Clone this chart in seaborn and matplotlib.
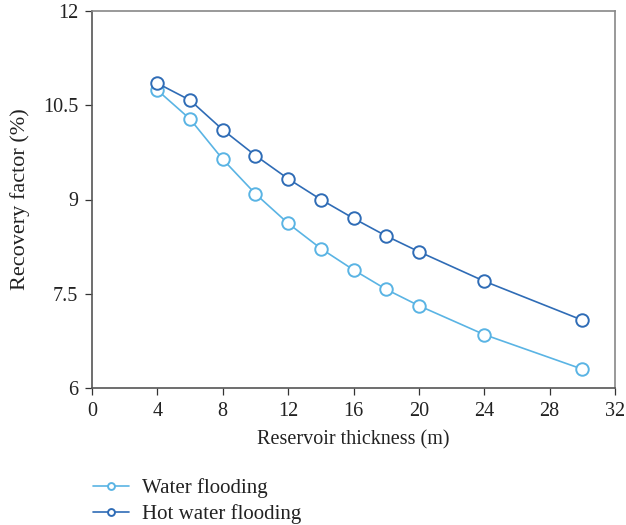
import pandas as pd
import matplotlib
matplotlib.use("Agg")
import matplotlib.pyplot as plt
import seaborn as sns

# Reservoir thickness (m) and recovery factor (%) for both methods
thickness = [4, 6, 8, 10, 12, 14, 16, 18, 20, 24, 30]
water_flooding = [10.74, 10.28, 9.64, 9.09, 8.62, 8.22, 7.88, 7.57, 7.31, 6.85, 6.30]
hot_water_flooding = [10.85, 10.58, 10.11, 9.70, 9.33, 9.00, 8.70, 8.42, 8.17, 7.70, 7.08]

x_ticks = [0, 4, 8, 12, 16, 20, 24, 28, 32]
y_ticks = [6, 7.5, 9, 10.5, 12]
y_tick_labels = ["6", "7.5", "9", "10.5", "12"]

df = pd.DataFrame({
    "thickness": thickness * 2,
    "recovery": water_flooding + hot_water_flooding,
    "method": ["Water flooding"] * len(thickness) + ["Hot water flooding"] * len(thickness),
})

sns.set_style("white")
plt.rcParams["font.family"] = ["Liberation Serif", "DejaVu Serif"]

fig = plt.figure(figsize=(6.26, 5.25), dpi=100)
ax = fig.add_axes([92 / 626, 137 / 525, 523 / 626, 377 / 525])

colors = {"Water flooding": "#5ab4e4", "Hot water flooding": "#2f6cb6"}
for name, sub in df.groupby("method", sort=False):
    sns.lineplot(
        data=sub, x="thickness", y="recovery", ax=ax,
        color=colors[name], label=name, linewidth=1.2,
        marker="o", markersize=9, markerfacecolor="white",
        markeredgecolor=colors[name], markeredgewidth=1.4,
    )

ax.set_xlim(0, 32)
ax.set_ylim(6, 12)
ax.set_xticks(x_ticks)
ax.set_yticks(y_ticks)
ax.set_yticklabels(y_tick_labels)
ax.tick_params(axis="both", direction="out", length=5, width=0.9,
               color="#333333", labelsize=14.5, pad=5, bottom=True, left=True,
               labelcolor="#222222")

for side in ["left", "bottom"]:
    ax.spines[side].set_color("#555555")
    ax.spines[side].set_linewidth(1.2)
for side in ["top", "right"]:
    ax.spines[side].set_color("#888888")
    ax.spines[side].set_linewidth(1.2)

ax.set_xlabel("Reservoir thickness (m)", fontsize=14.5, labelpad=7, color="#222222")
ax.set_ylabel("Recovery factor (%)", fontsize=16, labelpad=9, color="#222222")

leg = ax.legend(
    loc="upper left", bbox_to_anchor=(83 / 626, 1 - 468 / 525),
    bbox_transform=fig.transFigure, frameon=False, fontsize=15,
    borderpad=0, handlelength=1.7, handletextpad=0.62, labelspacing=0.3,
    markerscale=0.55,
)
for t in leg.get_texts():
    t.set_color("#222222")

fig.savefig("out.png", dpi=100)
